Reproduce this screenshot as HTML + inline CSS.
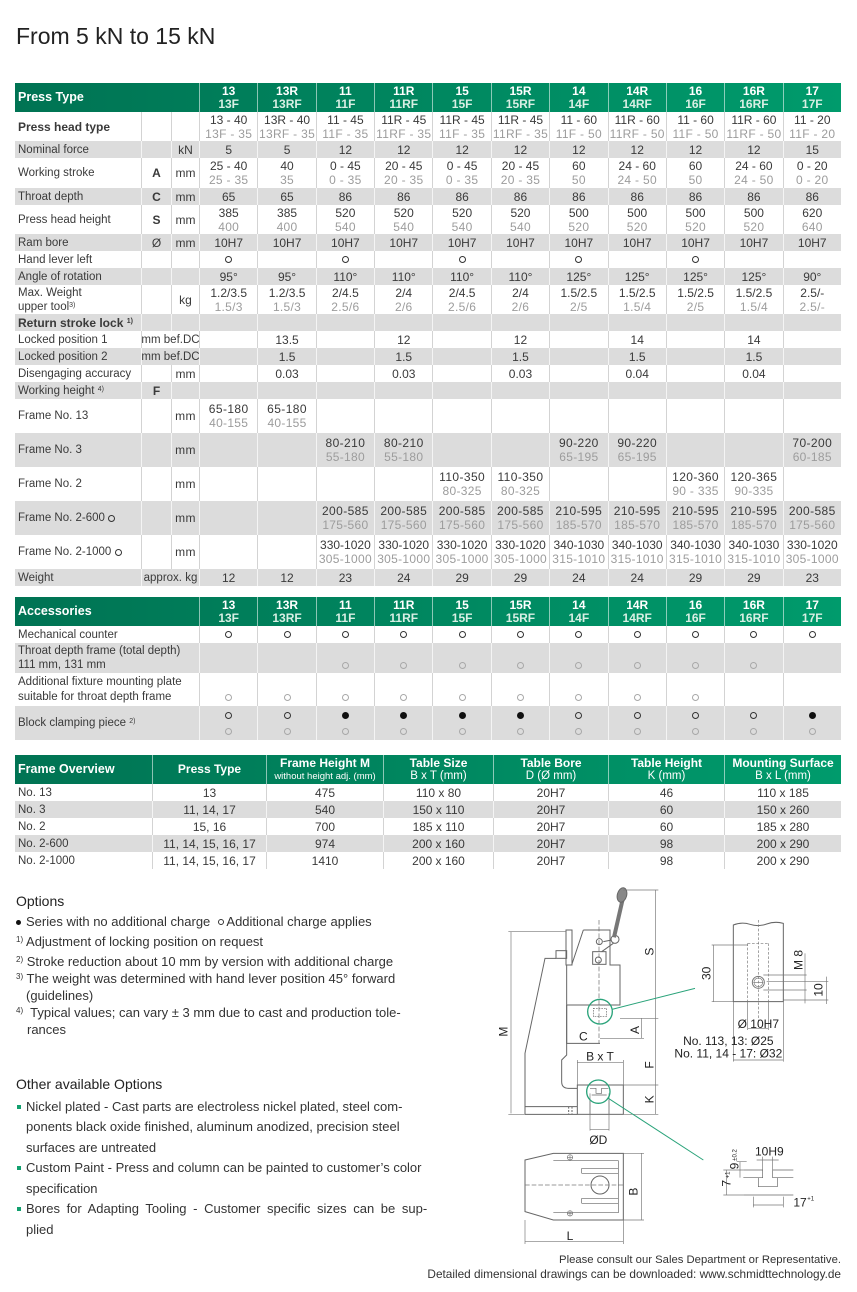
<!DOCTYPE html>
<html><head><meta charset="utf-8">
<style>
*{box-sizing:border-box;margin:0;padding:0}
body{width:857px;height:1292px;position:relative;overflow:hidden;background:#fff;font-family:"Liberation Sans",Arial,sans-serif;color:#333}
.t{position:absolute;left:15px;width:826px}
.r{display:flex;height:17px}
.h29{height:29px}.h30{height:30px}.h34{height:34px}.h33{height:33px}
.g{background:#dcdcdc}
.c{flex:1 1 0;min-width:0;display:flex;flex-direction:column;justify-content:center;align-items:center;border-left:1px solid #d3d3d3;font-size:12px;line-height:14px;white-space:nowrap;color:#3a3a3a}
.g>.c{border-left-color:#f4f4f4}
.c>span{display:flex;align-items:center;justify-content:center;height:14px}
.L{flex:none;width:126px;align-items:flex-start;padding-left:3px;border-left:0;font-size:11.5px}
.L>span{justify-content:flex-start}
.S{flex:none;width:30px}.U{flex:none;width:28px}.SU{flex:none;width:58px;font-size:11.5px}
.W{flex:none;width:184px;align-items:flex-start;padding-left:3px;border-left:0;font-size:11.5px}
.W>span{justify-content:flex-start}
.d{color:#9c9c9c;letter-spacing:.3px}
.bo{font-weight:bold}
.fr>.c:not(.L){letter-spacing:.4px}
.hd{background:linear-gradient(90deg,#007353,#009b6c);color:#fff}
.hd>.c{color:#fff;font-weight:bold;border-left-color:rgba(255,255,255,.55);font-size:12px;line-height:13px}
.hd>.c>span{height:13px}
.hd .hf{color:#d8efe4}
.hd>.W{font-size:12.5px}
.o{display:inline-block;width:7px;height:7px;border:1.2px solid #333;border-radius:50%}
.o.l{border-color:#a8a8a8}
.o.f{background:#111;border-color:#111}
sup{font-size:7px;vertical-align:top;position:relative;top:-1px}
.fo .c{flex:none}
.fo .hd .sm{font-weight:normal;font-size:9.5px}
.fo .hd .nb{font-weight:normal;font-size:11.5px}
.tx{position:absolute;left:16px;font-size:13px;line-height:18px;color:#333;white-space:nowrap}
.tx sup{font-size:8px;top:-2px}
.ttl{position:absolute;left:16px;font-size:14px;line-height:18px;color:#222}
.sq{position:absolute;left:17px;width:4px;height:4px;background:#12a06f}
.ft{position:absolute;right:16px;font-size:11.3px;line-height:14px;color:#333;white-space:nowrap;text-align:right}
</style></head>
<body>
<div style="position:absolute;left:16px;top:25px;font-size:23px;line-height:23px;color:#222">From 5 kN to 15 kN</div>

<!-- MAIN TABLE -->
<div class="t" style="top:83px">
<div class="r hd h29"><div class="c W">Press Type</div>
<div class="c"><span>13</span><span class="hf">13F</span></div>
<div class="c"><span>13R</span><span class="hf">13RF</span></div>
<div class="c"><span>11</span><span class="hf">11F</span></div>
<div class="c"><span>11R</span><span class="hf">11RF</span></div>
<div class="c"><span>15</span><span class="hf">15F</span></div>
<div class="c"><span>15R</span><span class="hf">15RF</span></div>
<div class="c"><span>14</span><span class="hf">14F</span></div>
<div class="c"><span>14R</span><span class="hf">14RF</span></div>
<div class="c"><span>16</span><span class="hf">16F</span></div>
<div class="c"><span>16R</span><span class="hf">16RF</span></div>
<div class="c"><span>17</span><span class="hf">17F</span></div>
</div>
<div class="r h29"><div class="c L bo" style="font-size:12px">Press head type</div><div class="c S"></div><div class="c U"></div>
<div class="c"><span>13 - 40</span><span class="d">13F - 35</span></div>
<div class="c"><span>13R - 40</span><span class="d">13RF - 35</span></div>
<div class="c"><span>11 - 45</span><span class="d">11F - 35</span></div>
<div class="c"><span>11R - 45</span><span class="d">11RF - 35</span></div>
<div class="c"><span>11R - 45</span><span class="d">11F - 35</span></div>
<div class="c"><span>11R - 45</span><span class="d">11RF - 35</span></div>
<div class="c"><span>11 - 60</span><span class="d">11F - 50</span></div>
<div class="c"><span>11R - 60</span><span class="d">11RF - 50</span></div>
<div class="c"><span>11 - 60</span><span class="d">11F - 50</span></div>
<div class="c"><span>11R - 60</span><span class="d">11RF - 50</span></div>
<div class="c"><span>11 - 20</span><span class="d">11F - 20</span></div>
</div>
<div class="r g"><div class="c L">Nominal force</div><div class="c S"></div><div class="c U">kN</div>
<div class="c">5</div><div class="c">5</div><div class="c">12</div><div class="c">12</div><div class="c">12</div><div class="c">12</div><div class="c">12</div><div class="c">12</div><div class="c">12</div><div class="c">12</div><div class="c">15</div>
</div>
<div class="r h30"><div class="c L">Working stroke</div><div class="c S bo">A</div><div class="c U">mm</div>
<div class="c"><span>25 - 40</span><span class="d">25 - 35</span></div>
<div class="c"><span>40</span><span class="d">35</span></div>
<div class="c"><span>0 - 45</span><span class="d">0 - 35</span></div>
<div class="c"><span>20 - 45</span><span class="d">20 - 35</span></div>
<div class="c"><span>0 - 45</span><span class="d">0 - 35</span></div>
<div class="c"><span>20 - 45</span><span class="d">20 - 35</span></div>
<div class="c"><span>60</span><span class="d">50</span></div>
<div class="c"><span>24 - 60</span><span class="d">24 - 50</span></div>
<div class="c"><span>60</span><span class="d">50</span></div>
<div class="c"><span>24 - 60</span><span class="d">24 - 50</span></div>
<div class="c"><span>0 - 20</span><span class="d">0 - 20</span></div>
</div>
<div class="r g"><div class="c L">Throat depth</div><div class="c S bo">C</div><div class="c U">mm</div>
<div class="c">65</div><div class="c">65</div><div class="c">86</div><div class="c">86</div><div class="c">86</div><div class="c">86</div><div class="c">86</div><div class="c">86</div><div class="c">86</div><div class="c">86</div><div class="c">86</div>
</div>
<div class="r h29"><div class="c L">Press head height</div><div class="c S bo">S</div><div class="c U">mm</div>
<div class="c"><span>385</span><span class="d">400</span></div>
<div class="c"><span>385</span><span class="d">400</span></div>
<div class="c"><span>520</span><span class="d">540</span></div>
<div class="c"><span>520</span><span class="d">540</span></div>
<div class="c"><span>520</span><span class="d">540</span></div>
<div class="c"><span>520</span><span class="d">540</span></div>
<div class="c"><span>500</span><span class="d">520</span></div>
<div class="c"><span>500</span><span class="d">520</span></div>
<div class="c"><span>500</span><span class="d">520</span></div>
<div class="c"><span>500</span><span class="d">520</span></div>
<div class="c"><span>620</span><span class="d">640</span></div>
</div>
<div class="r g"><div class="c L">Ram bore</div><div class="c S">Ø</div><div class="c U">mm</div>
<div class="c">10H7</div><div class="c">10H7</div><div class="c">10H7</div><div class="c">10H7</div><div class="c">10H7</div><div class="c">10H7</div><div class="c">10H7</div><div class="c">10H7</div><div class="c">10H7</div><div class="c">10H7</div><div class="c">10H7</div>
</div>
<div class="r"><div class="c L">Hand lever left</div><div class="c S"></div><div class="c U"></div>
<div class="c"><i class="o"></i></div><div class="c"></div><div class="c"><i class="o"></i></div><div class="c"></div><div class="c"><i class="o"></i></div><div class="c"></div><div class="c"><i class="o"></i></div><div class="c"></div><div class="c"><i class="o"></i></div><div class="c"></div><div class="c"></div>
</div>
<div class="r g"><div class="c L">Angle of rotation</div><div class="c S"></div><div class="c U"></div>
<div class="c">95°</div><div class="c">95°</div><div class="c">110°</div><div class="c">110°</div><div class="c">110°</div><div class="c">110°</div><div class="c">125°</div><div class="c">125°</div><div class="c">125°</div><div class="c">125°</div><div class="c">90°</div>
</div>
<div class="r h29"><div class="c L"><span>Max. Weight</span><span>upper tool<sup>3)</sup></span></div><div class="c S"></div><div class="c U">kg</div>
<div class="c"><span>1.2/3.5</span><span class="d">1.5/3</span></div>
<div class="c"><span>1.2/3.5</span><span class="d">1.5/3</span></div>
<div class="c"><span>2/4.5</span><span class="d">2.5/6</span></div>
<div class="c"><span>2/4</span><span class="d">2/6</span></div>
<div class="c"><span>2/4.5</span><span class="d">2.5/6</span></div>
<div class="c"><span>2/4</span><span class="d">2/6</span></div>
<div class="c"><span>1.5/2.5</span><span class="d">2/5</span></div>
<div class="c"><span>1.5/2.5</span><span class="d">1.5/4</span></div>
<div class="c"><span>1.5/2.5</span><span class="d">2/5</span></div>
<div class="c"><span>1.5/2.5</span><span class="d">1.5/4</span></div>
<div class="c"><span>2.5/-</span><span class="d">2.5/-</span></div>
</div>
<div class="r g"><div class="c L bo" style="font-size:12px"><span>Return stroke lock&nbsp;<sup>1)</sup></span></div><div class="c S"></div><div class="c U"></div>
<div class="c"></div><div class="c"></div><div class="c"></div><div class="c"></div><div class="c"></div><div class="c"></div><div class="c"></div><div class="c"></div><div class="c"></div><div class="c"></div><div class="c"></div>
</div>
<div class="r"><div class="c L">Locked position 1</div><div class="c SU">mm bef.DC</div>
<div class="c"></div><div class="c">13.5</div><div class="c"></div><div class="c">12</div><div class="c"></div><div class="c">12</div><div class="c"></div><div class="c">14</div><div class="c"></div><div class="c">14</div><div class="c"></div>
</div>
<div class="r g"><div class="c L">Locked position 2</div><div class="c SU">mm bef.DC</div>
<div class="c"></div><div class="c">1.5</div><div class="c"></div><div class="c">1.5</div><div class="c"></div><div class="c">1.5</div><div class="c"></div><div class="c">1.5</div><div class="c"></div><div class="c">1.5</div><div class="c"></div>
</div>
<div class="r"><div class="c L">Disengaging accuracy</div><div class="c S"></div><div class="c U">mm</div>
<div class="c"></div><div class="c">0.03</div><div class="c"></div><div class="c">0.03</div><div class="c"></div><div class="c">0.03</div><div class="c"></div><div class="c">0.04</div><div class="c"></div><div class="c">0.04</div><div class="c"></div>
</div>
<div class="r g"><div class="c L"><span>Working height&nbsp;<sup>4)</sup></span></div><div class="c S bo">F</div><div class="c U"></div>
<div class="c"></div><div class="c"></div><div class="c"></div><div class="c"></div><div class="c"></div><div class="c"></div><div class="c"></div><div class="c"></div><div class="c"></div><div class="c"></div><div class="c"></div>
</div>
<div class="r h34 fr"><div class="c L">Frame No. 13</div><div class="c S"></div><div class="c U">mm</div>
<div class="c"><span>65-180</span><span class="d">40-155</span></div>
<div class="c"><span>65-180</span><span class="d">40-155</span></div>
<div class="c"></div><div class="c"></div><div class="c"></div><div class="c"></div><div class="c"></div><div class="c"></div><div class="c"></div><div class="c"></div><div class="c"></div>
</div>
<div class="r h34 g fr"><div class="c L">Frame No. 3</div><div class="c S"></div><div class="c U">mm</div>
<div class="c"></div><div class="c"></div>
<div class="c"><span>80-210</span><span class="d">55-180</span></div>
<div class="c"><span>80-210</span><span class="d">55-180</span></div>
<div class="c"></div><div class="c"></div>
<div class="c"><span>90-220</span><span class="d">65-195</span></div>
<div class="c"><span>90-220</span><span class="d">65-195</span></div>
<div class="c"></div><div class="c"></div>
<div class="c"><span>70-200</span><span class="d">60-185</span></div>
</div>
<div class="r h34 fr"><div class="c L">Frame No. 2</div><div class="c S"></div><div class="c U">mm</div>
<div class="c"></div><div class="c"></div><div class="c"></div><div class="c"></div>
<div class="c"><span>110-350</span><span class="d">80-325</span></div>
<div class="c"><span>110-350</span><span class="d">80-325</span></div>
<div class="c"></div><div class="c"></div>
<div class="c"><span>120-360</span><span class="d">90 - 335</span></div>
<div class="c"><span>120-365</span><span class="d">90-335</span></div>
<div class="c"></div>
</div>
<div class="r h34 g fr"><div class="c L"><span>Frame No. 2-600&nbsp;<i class="o" style="width:7px;height:7px"></i></span></div><div class="c S"></div><div class="c U">mm</div>
<div class="c"></div><div class="c"></div>
<div class="c"><span>200-585</span><span class="d">175-560</span></div>
<div class="c"><span>200-585</span><span class="d">175-560</span></div>
<div class="c"><span>200-585</span><span class="d">175-560</span></div>
<div class="c"><span>200-585</span><span class="d">175-560</span></div>
<div class="c"><span>210-595</span><span class="d">185-570</span></div>
<div class="c"><span>210-595</span><span class="d">185-570</span></div>
<div class="c"><span>210-595</span><span class="d">185-570</span></div>
<div class="c"><span>210-595</span><span class="d">185-570</span></div>
<div class="c"><span>200-585</span><span class="d">175-560</span></div>
</div>
<div class="r h34 fr"><div class="c L"><span>Frame No. 2-1000&nbsp;<i class="o"></i></span></div><div class="c S"></div><div class="c U">mm</div>
<div class="c"></div><div class="c"></div>
<div class="c" style="letter-spacing:0"><span>330-1020</span><span class="d">305-1000</span></div>
<div class="c" style="letter-spacing:0"><span>330-1020</span><span class="d">305-1000</span></div>
<div class="c" style="letter-spacing:0"><span>330-1020</span><span class="d">305-1000</span></div>
<div class="c" style="letter-spacing:0"><span>330-1020</span><span class="d">305-1000</span></div>
<div class="c" style="letter-spacing:0"><span>340-1030</span><span class="d">315-1010</span></div>
<div class="c" style="letter-spacing:0"><span>340-1030</span><span class="d">315-1010</span></div>
<div class="c" style="letter-spacing:0"><span>340-1030</span><span class="d">315-1010</span></div>
<div class="c" style="letter-spacing:0"><span>340-1030</span><span class="d">315-1010</span></div>
<div class="c" style="letter-spacing:0"><span>330-1020</span><span class="d">305-1000</span></div>
</div>
<div class="r g"><div class="c L">Weight</div><div class="c SU">approx. kg</div>
<div class="c">12</div><div class="c">12</div><div class="c">23</div><div class="c">24</div><div class="c">29</div><div class="c">29</div><div class="c">24</div><div class="c">24</div><div class="c">29</div><div class="c">29</div><div class="c">23</div>
</div>
</div>

<!-- ACCESSORIES -->
<div class="t" style="top:597px">
<div class="r hd h29"><div class="c W">Accessories</div>
<div class="c"><span>13</span><span class="hf">13F</span></div>
<div class="c"><span>13R</span><span class="hf">13RF</span></div>
<div class="c"><span>11</span><span class="hf">11F</span></div>
<div class="c"><span>11R</span><span class="hf">11RF</span></div>
<div class="c"><span>15</span><span class="hf">15F</span></div>
<div class="c"><span>15R</span><span class="hf">15RF</span></div>
<div class="c"><span>14</span><span class="hf">14F</span></div>
<div class="c"><span>14R</span><span class="hf">14RF</span></div>
<div class="c"><span>16</span><span class="hf">16F</span></div>
<div class="c"><span>16R</span><span class="hf">16RF</span></div>
<div class="c"><span>17</span><span class="hf">17F</span></div>
</div>
<div class="r"><div class="c W">Mechanical counter</div>
<div class="c"><i class="o"></i></div><div class="c"><i class="o"></i></div><div class="c"><i class="o"></i></div><div class="c"><i class="o"></i></div><div class="c"><i class="o"></i></div><div class="c"><i class="o"></i></div><div class="c"><i class="o"></i></div><div class="c"><i class="o"></i></div><div class="c"><i class="o"></i></div><div class="c"><i class="o"></i></div><div class="c"><i class="o"></i></div>
</div>
<div class="r g h30"><div class="c W"><span>Throat depth frame (total depth)</span><span>111 mm, 131 mm</span></div>
<div class="c"></div><div class="c"></div>
<div class="c"><span></span><span><i class="o l"></i></span></div>
<div class="c"><span></span><span><i class="o l"></i></span></div>
<div class="c"><span></span><span><i class="o l"></i></span></div>
<div class="c"><span></span><span><i class="o l"></i></span></div>
<div class="c"><span></span><span><i class="o l"></i></span></div>
<div class="c"><span></span><span><i class="o l"></i></span></div>
<div class="c"><span></span><span><i class="o l"></i></span></div>
<div class="c"><span></span><span><i class="o l"></i></span></div>
<div class="c"></div>
</div>
<div class="r h33"><div class="c W" style="line-height:15px"><span style="height:15px">Additional fixture mounting plate</span><span style="height:15px">suitable for throat depth frame</span></div>
<div class="c"><span></span><span style="margin-top:2px"><i class="o l"></i></span></div>
<div class="c"><span></span><span style="margin-top:2px"><i class="o l"></i></span></div>
<div class="c"><span></span><span style="margin-top:2px"><i class="o l"></i></span></div>
<div class="c"><span></span><span style="margin-top:2px"><i class="o l"></i></span></div>
<div class="c"><span></span><span style="margin-top:2px"><i class="o l"></i></span></div>
<div class="c"><span></span><span style="margin-top:2px"><i class="o l"></i></span></div>
<div class="c"><span></span><span style="margin-top:2px"><i class="o l"></i></span></div>
<div class="c"><span></span><span style="margin-top:2px"><i class="o l"></i></span></div>
<div class="c"><span></span><span style="margin-top:2px"><i class="o l"></i></span></div>
<div class="c"></div><div class="c"></div>
</div>
<div class="r g h34"><div class="c W"><span>Block clamping piece&nbsp;<sup>2)</sup></span></div>
<div class="c"><span><i class="o"></i></span><span style="margin-top:2px"><i class="o l"></i></span></div>
<div class="c"><span><i class="o"></i></span><span style="margin-top:2px"><i class="o l"></i></span></div>
<div class="c"><span><i class="o f"></i></span><span style="margin-top:2px"><i class="o l"></i></span></div>
<div class="c"><span><i class="o f"></i></span><span style="margin-top:2px"><i class="o l"></i></span></div>
<div class="c"><span><i class="o f"></i></span><span style="margin-top:2px"><i class="o l"></i></span></div>
<div class="c"><span><i class="o f"></i></span><span style="margin-top:2px"><i class="o l"></i></span></div>
<div class="c"><span><i class="o"></i></span><span style="margin-top:2px"><i class="o l"></i></span></div>
<div class="c"><span><i class="o"></i></span><span style="margin-top:2px"><i class="o l"></i></span></div>
<div class="c"><span><i class="o"></i></span><span style="margin-top:2px"><i class="o l"></i></span></div>
<div class="c"><span><i class="o"></i></span><span style="margin-top:2px"><i class="o l"></i></span></div>
<div class="c"><span><i class="o f"></i></span><span style="margin-top:2px"><i class="o l"></i></span></div>
</div>
</div>

<!-- FRAME OVERVIEW -->
<div class="t fo" style="top:755px">
<div class="r hd h29">
<div class="c W" style="width:137px">Frame Overview</div>
<div class="c" style="width:114px">Press Type</div>
<div class="c" style="width:117px"><span>Frame Height M</span><span class="sm">without height adj. (mm)</span></div>
<div class="c" style="width:110px"><span>Table Size</span><span class="nb">B x T (mm)</span></div>
<div class="c" style="width:115px"><span>Table Bore</span><span class="nb">D (Ø mm)</span></div>
<div class="c" style="width:116px"><span>Table Height</span><span class="nb">K (mm)</span></div>
<div class="c" style="width:117px"><span>Mounting Surface</span><span class="nb">B x L (mm)</span></div>
</div>
<div class="r"><div class="c W" style="width:137px">No. 13</div><div class="c" style="width:114px">13</div><div class="c" style="width:117px">475</div><div class="c" style="width:110px">110 x 80</div><div class="c" style="width:115px">20H7</div><div class="c" style="width:116px">46</div><div class="c" style="width:117px">110 x 185</div></div>
<div class="r g"><div class="c W" style="width:137px">No. 3</div><div class="c" style="width:114px">11, 14, 17</div><div class="c" style="width:117px">540</div><div class="c" style="width:110px">150 x 110</div><div class="c" style="width:115px">20H7</div><div class="c" style="width:116px">60</div><div class="c" style="width:117px">150 x 260</div></div>
<div class="r"><div class="c W" style="width:137px">No. 2</div><div class="c" style="width:114px">15, 16</div><div class="c" style="width:117px">700</div><div class="c" style="width:110px">185 x 110</div><div class="c" style="width:115px">20H7</div><div class="c" style="width:116px">60</div><div class="c" style="width:117px">185 x 280</div></div>
<div class="r g"><div class="c W" style="width:137px">No. 2-600</div><div class="c" style="width:114px">11, 14, 15, 16, 17</div><div class="c" style="width:117px">974</div><div class="c" style="width:110px">200 x 160</div><div class="c" style="width:115px">20H7</div><div class="c" style="width:116px">98</div><div class="c" style="width:117px">200 x 290</div></div>
<div class="r"><div class="c W" style="width:137px">No. 2-1000</div><div class="c" style="width:114px">11, 14, 15, 16, 17</div><div class="c" style="width:117px">1410</div><div class="c" style="width:110px">200 x 160</div><div class="c" style="width:115px">20H7</div><div class="c" style="width:116px">98</div><div class="c" style="width:117px">200 x 290</div></div>
</div>

<!-- OPTIONS -->
<div class="ttl" style="top:892px">Options</div>
<div class="tx" style="top:913px"><i style="position:absolute;left:0;top:7px;width:5px;height:5px;border-radius:50%;background:#111"></i><span style="padding-left:10px">Series with no additional charge &nbsp;<i class="o" style="width:6px;height:6px;vertical-align:1px"></i> Additional charge applies</span></div>
<div class="tx" style="top:933px"><sup>1)</sup> Adjustment of locking position on request</div>
<div class="tx" style="top:953px"><sup>2)</sup> Stroke reduction about 10 mm by version with additional charge</div>
<div class="tx" style="top:970px"><sup>3)</sup> The weight was determined with hand lever position 45° forward</div>
<div class="tx" style="top:987px;left:26px">(guidelines)</div>
<div class="tx" style="top:1004px"><sup>4)</sup>&nbsp; Typical values; can vary ± 3 mm due to cast and production tole-</div>
<div class="tx" style="top:1021px;left:27px">rances</div>

<div class="ttl" style="top:1075px">Other available Options</div>
<i class="sq" style="top:1105px"></i>
<div class="tx" style="top:1098px;left:26px">Nickel plated - Cast parts are electroless nickel plated, steel com-</div>
<div class="tx" style="top:1118px;left:26px">ponents black oxide finished, aluminum anodized, precision steel</div>
<div class="tx" style="top:1139px;left:26px">surfaces are untreated</div>
<i class="sq" style="top:1166px"></i>
<div class="tx" style="top:1159px;left:26px">Custom Paint - Press and column can be painted to customer’s color</div>
<div class="tx" style="top:1180px;left:26px">specification</div>
<i class="sq" style="top:1207px"></i>
<div class="tx" style="top:1200px;left:26px;word-spacing:3px">Bores for Adapting Tooling - Customer specific sizes can be sup-</div>
<div class="tx" style="top:1221px;left:26px">plied</div>

<!-- DRAWING -->
<svg style="position:absolute;left:490px;top:880px" width="360" height="370" viewBox="0 0 1080 1110" fill="none" stroke="#666" stroke-width="3">
<g>
<path d="M105,703 V520 L165,235 H198"/>
<rect x="198" y="212" width="32" height="23"/>
<rect x="228" y="150" width="18" height="105"/>
<path d="M230,255 V525 L215,540 V605 Q215,625 235,625 H262"/>
<path d="M105,680 H262 M105,703 H262"/>
<path d="M236,680 V703 M246,680 V703" stroke-dasharray="6,4"/>
<path d="M280,150 H360 V255 H390 V375 H230 M280,150 L245,255"/>
<path d="M230,375 V490 H330"/>
<path d="M327,120 V490" stroke-dasharray="14,6" stroke-width="2"/>
<circle cx="328" cy="185" r="9"/>
<circle cx="375" cy="178" r="12"/>
<rect x="308" y="215" width="40" height="38"/>
<circle cx="325" cy="240" r="9"/>
<path d="M340,185 L365,180 M335,215 L370,190"/>
<path d="M372,172 L398,58" stroke="#777" stroke-width="12"/>
<ellipse cx="396" cy="45" rx="14" ry="22" fill="#888" transform="rotate(15 396 45)"/>
<rect x="262" y="615" width="138" height="88"/>
<path d="M300,625 H318 V640 H335 V625 H355 M305,645 H350 M300,660 V703 M357,660 V703" stroke-width="2"/>
<path d="M310,385 H350 V410 H310 Z" stroke-width="2" stroke-dasharray="5,3"/>
</g>
<g stroke="#777" stroke-width="2">
<path d="M63,155 V700 M55,155 H228 M55,703 H105"/>
<path d="M497,30 V703 M400,30 H505 M390,415 H505 M400,615 H505 M400,703 H505"/>
<path d="M455,415 V475 M330,475 H462"/>
<path d="M262,548 H400 M262,540 V615 M400,540 V615"/>
<path d="M300,640 V752 M357,640 V752 M300,748 H357"/>
<path d="M730,365 V135 Q755,125 780,133 T830,132 T880,130 V365 Z" stroke="#666" stroke-width="3"/>
<path d="M805,120 V445 M773,190 V365 M835,190 V365 M773,190 H835" stroke-dasharray="8,5"/>
<circle cx="805" cy="307" r="18" stroke-width="3"/>
<circle cx="805" cy="307" r="13"/>
<path d="M790,307 H820"/>
<path d="M665,195 H773 M665,365 H730 M670,195 V365"/>
<path d="M820,285 H950 M820,330 H950 M945,220 V370"/>
<path d="M830,305 H1015 M880,360 H1015 M1010,290 V372"/>
<path d="M773,365 V450 M835,365 V450 M773,445 H835"/>
<path d="M730,365 V545 M880,365 V545 M730,540 H880"/>
<path d="M105,840 L190,820 H400 V1020 H190 L105,995 Z" stroke="#666" stroke-width="3"/>
<path d="M190,842 H385 V998 H190" stroke="#666"/>
<path d="M275,865 H385 M275,880 H385 M275,865 V880 M275,955 H385 M275,970 H385 M275,955 V970" stroke="#666"/>
<circle cx="330" cy="915" r="27" stroke="#666" stroke-width="3"/>
<circle cx="240" cy="832" r="8"/><path d="M232,832 H248 M240,824 V840"/>
<circle cx="240" cy="1000" r="8"/><path d="M232,1000 H248 M240,992 V1008"/>
<path d="M105,915 H400" stroke-dasharray="14,6"/>
<path d="M400,820 H462 M400,1020 H462 M455,820 V1020"/>
<path d="M105,1020 V1092 M400,1020 V1092 M105,1085 H400"/>
<path d="M760,870 H818 V893 H805 V920 H862 V893 H848 V870 H910 M760,893 H805 M862,893 H910 M760,945 H910" stroke="#666"/>
<path d="M818,830 V870 M848,830 V870 M800,840 H866"/>
<path d="M750,845 V893 M740,845 H770"/>
<path d="M710,870 V945 M700,870 H760 M700,945 H760"/>
<path d="M790,975 H880 M790,950 V982 M880,950 V982"/>
</g>
<g stroke="#2aa37a" stroke-width="4">
<circle cx="330" cy="395" r="37"/>
<circle cx="325" cy="635" r="35"/>
<path d="M366,388 L615,325 M355,655 L640,840" stroke-width="3"/>
</g>
<g fill="#222" stroke="none" font-family="Liberation Sans, Arial, sans-serif" font-size="36" text-anchor="middle">
<text transform="translate(53,455) rotate(-90)">M</text>
<text transform="translate(490,215) rotate(-90)">S</text>
<text transform="translate(447,450) rotate(-90)">A</text>
<text transform="translate(490,555) rotate(-90)">F</text>
<text transform="translate(490,658) rotate(-90)">K</text>
<text transform="translate(443,935) rotate(-90)">B</text>
<text x="280" y="482">C</text>
<text x="330" y="542">B x T</text>
<text x="325" y="792">ØD</text>
<text x="240" y="1080">L</text>
<text transform="translate(662,280) rotate(-90)">30</text>
<text transform="translate(937,240) rotate(-90)">M 8</text>
<text transform="translate(997,330) rotate(-90)">10</text>
<text x="805" y="444">Ø 10H7</text>
<text x="715" y="495">No. 113, 13: Ø25</text>
<text x="715" y="532">No. 11, 14 - 17: Ø32</text>
<text x="838" y="826">10H9</text>
<text transform="translate(745,858) rotate(-90)">9</text>
<text transform="translate(740,825) rotate(-90)" font-size="18">±0.2</text>
<text transform="translate(722,910) rotate(-90)">7</text>
<text transform="translate(718,885) rotate(-90)" font-size="18">+1</text>
<text x="930" y="980">17</text>
<text x="962" y="962" font-size="18">+1</text>
</g>
</svg>

<div class="ft" style="top:1253px">Please consult our Sales Department or Representative.</div>
<div class="ft" style="top:1267px;font-size:11.8px">Detailed dimensional drawings can be downloaded: www.schmidttechnology.de</div>
</body></html>
